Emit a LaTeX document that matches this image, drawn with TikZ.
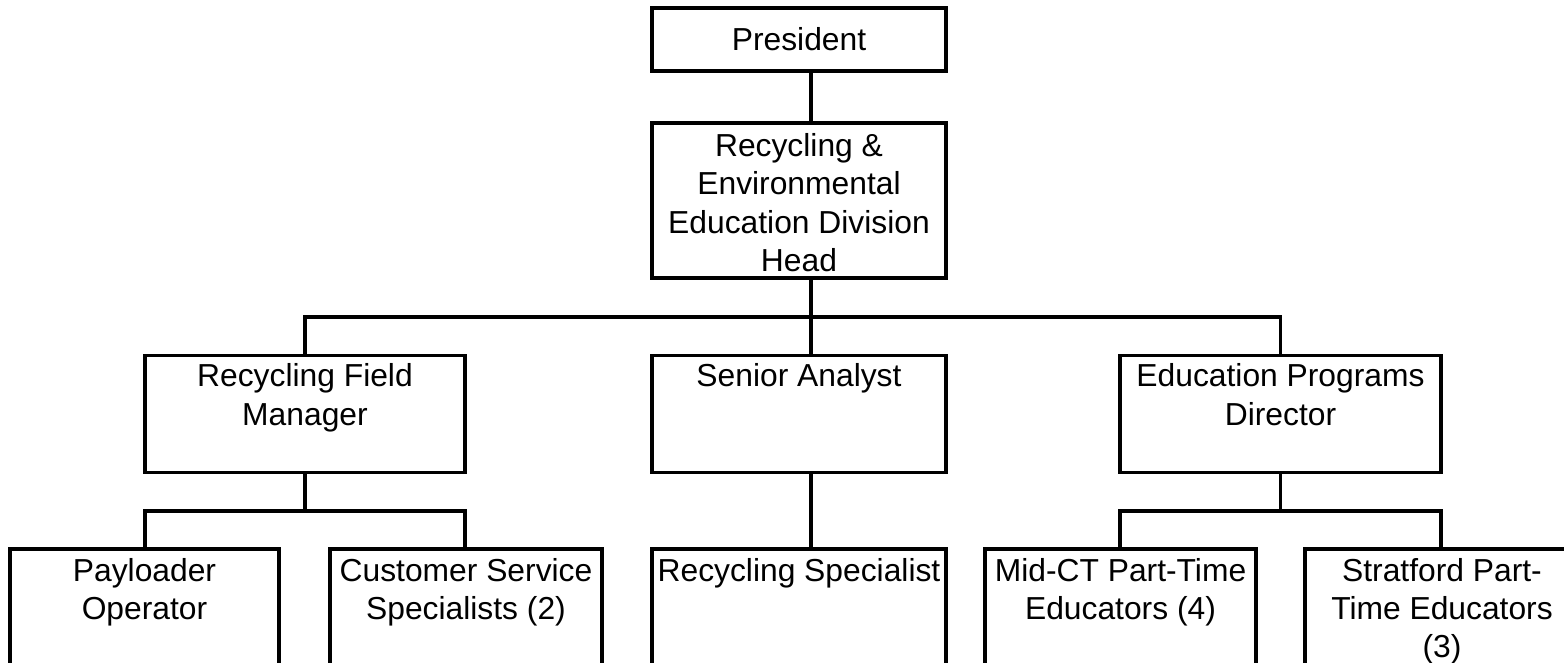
\documentclass[tikz,border=0pt]{standalone}
\usepackage{fontspec}
\setmainfont{Liberation Sans}
\usetikzlibrary{calc}
\begin{document}
\begin{tikzpicture}[x=0.5pt,y=-0.5pt,
  orgbox/.style={draw=black, line width=1.9pt, inner sep=0pt, outer sep=0pt, rectangle},
  orgfont/.style={font=\fontsize{15.9}{19.15}\selectfont},
  orgtext/.style={orgfont, anchor=north, inner sep=0pt, align=center},
  link/.style={draw=black, line width=1.9pt}]
\clip (0,0) rectangle (1564,663);
\fill[white] (0,0) rectangle (1564,663);

% reference lines for the connectors
\coordinate (spine) at (811,0);
\coordinate (bus1) at (0,317);
\coordinate (bus2) at (0,511);

% top of the chart
\node[orgbox, orgfont, minimum width=147pt, minimum height=31.5pt] (pres) at (799,39.5) {President};
\node[orgbox, minimum width=147pt, minimum height=77.5pt] (head) at (799,200.5) {};
\node[orgtext] (headtxt) at ($(head.north)+(0,6.2)$) {\strut Recycling \&\\Environmental\\Education Division\\Head};

% second level
\node[orgbox, minimum width=160pt, minimum height=58.5pt] (mgr) at (305,414) {};
\node[orgtext] (mgrtxt) at ($(mgr.north)+(0,4.2)$) {\strut Recycling Field\\Manager};
\node[orgbox, minimum width=147pt, minimum height=58.5pt] (sen) at (799,414) {};
\node[orgtext] (sentxt) at ($(sen.north)+(0,4.2)$) {\strut Senior Analyst};
\node[orgbox, minimum width=160.5pt, minimum height=58.5pt] (ed) at (1280.5,414) {};
\node[orgtext] (edtxt) at ($(ed.north)+(0,4.2)$) {\strut Education Programs\\Director};

% third level (boxes run past the lower edge)
\node[orgbox, minimum width=134.5pt, minimum height=75.5pt] (pay) at (144.5,624.5) {};
\node[orgtext] (paytxt) at ($(pay.north)+(0,5)$) {\strut Payloader\\Operator};
\node[orgbox, minimum width=136pt, minimum height=75.5pt] (cust) at (466,624.5) {};
\node[orgtext] (custtxt) at ($(cust.north)+(0,5)$) {\strut Customer Service\\Specialists (2)};
\node[orgbox, minimum width=147pt, minimum height=75.5pt] (spec) at (799,624.5) {};
\node[orgtext] (spectxt) at ($(spec.north)+(0,5)$) {\strut Recycling Specialist};
\node[orgbox, minimum width=135.5pt, minimum height=75.5pt] (mid) at (1120.5,624.5) {};
\node[orgtext] (midtxt) at ($(mid.north)+(0,5)$) {\strut Mid-CT Part-Time\\Educators (4)};
\node[orgbox, minimum width=137pt, minimum height=75.5pt] (strat) at (1442,624.5) {};
\node[orgtext] (strattxt) at ($(strat.north)+(0,5)$) {\strut Stratford Part-\\Time Educators\\(3)};

% vertical spine through the centre column
\draw[link] (pres.south -| spine) -- (head.north -| spine);
\draw[link] (head.south -| spine) -- (sen.north -| spine);
\draw[link] (sen.south -| spine) -- (spec.north -| spine);

% bus to the outer second-level boxes
\draw[link] (mgr.north) -- (mgr.north |- bus1) -- (ed.north |- bus1) -- (ed.north);

% field manager's reports
\draw[link] (mgr.south) -- (mgr.south |- bus2);
\draw[link] (pay.north -| mgr.west) -- (mgr.west |- bus2) -- (mgr.east |- bus2) -- (cust.north -| mgr.east);

% education director's reports
\draw[link] (ed.south) -- (ed.south |- bus2);
\draw[link] (mid.north -| ed.west) -- (ed.west |- bus2) -- (ed.east |- bus2) -- (strat.north -| ed.east);
\end{tikzpicture}
\end{document}
